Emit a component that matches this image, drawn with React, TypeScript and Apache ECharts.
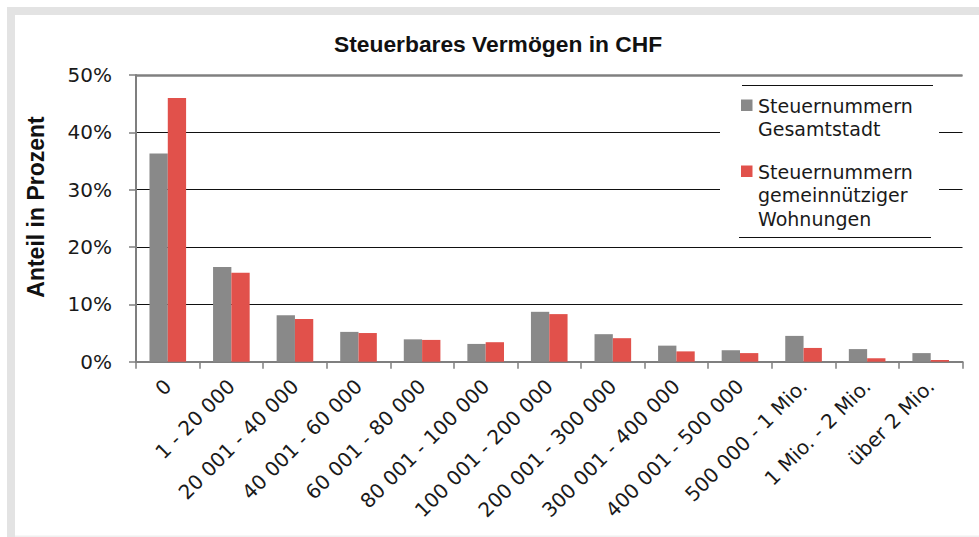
import React, { useEffect, useRef } from "react";
import * as echarts from "echarts";

const titleText = "Steuerbares Vermögen in CHF";
const yAxisName = "Anteil in Prozent";
const categories = [
  "0",
  "1 - 20 000",
  "20 001 - 40 000",
  "40 001 - 60 000",
  "60 001 - 80 000",
  "80 001 - 100 000",
  "100 001 - 200 000",
  "200 001 - 300 000",
  "300 001 - 400 000",
  "400 001 - 500 000",
  "500 000 - 1 Mio.",
  "1 Mio. - 2 Mio.",
  "über 2 Mio.",
];
const seriesNames = ["Steuernummern Gesamtstadt", "Steuernummern gemeinnütziger Wohnungen"];
const legendLabels = ["Steuernummern\nGesamtstadt", "Steuernummern\ngemeinnütziger\nWohnungen"];
const gesamtstadt = [36.3, 16.5, 8.1, 5.2, 3.9, 3.1, 8.7, 4.8, 2.8, 2.0, 4.5, 2.2, 1.5];
const gemeinnuetzig = [46.0, 15.5, 7.45, 5.0, 3.8, 3.4, 8.3, 4.1, 1.8, 1.5, 2.4, 0.6, 0.3];
const yTicks = [0, 10, 20, 30, 40, 50];

const COLORS = ["#898989", "#E1514B"];
const FONT = "'DejaVu Sans', Verdana, sans-serif";
const BOLD_FONT = "'Liberation Sans', Arial, Helvetica, sans-serif";
const TXT = "#1a1a1a";

export default function App() {
  const ref = useRef<HTMLDivElement>(null);
  useEffect(() => {
    if (!ref.current) return;
    const chart = echarts.init(ref.current, null, { renderer: "svg" });
    const legendGraphics: any[] = [
      { type: "rect", shape: { x: 720, y: 78, width: 219, height: 166 }, style: { fill: "#ffffff" }, z: 10 },
      { type: "line", shape: { x1: 742, y1: 85.5, x2: 933, y2: 85.5 }, style: { stroke: "#111", lineWidth: 1 }, z: 11 },
      { type: "line", shape: { x1: 739, y1: 237.5, x2: 931, y2: 237.5 }, style: { stroke: "#111", lineWidth: 1 }, z: 11 },
    ];
    const itemTops = [94, 160];
    legendLabels.forEach((lab, i) => {
      legendGraphics.push({
        type: "rect",
        shape: { x: 741, y: itemTops[i] + 5.5, width: 11.5, height: 11.5 },
        style: { fill: COLORS[i] },
        z: 11,
      });
      legendGraphics.push({
        type: "text",
        x: 758,
        y: itemTops[i],
        style: {
          text: lab,
          fill: TXT,
          font: `19px ${FONT}`,
          lineHeight: 23.5,
          textVerticalAlign: "top",
        },
        z: 11,
      });
    });

    chart.setOption({
      animation: false,
      backgroundColor: "#ffffff",
      textStyle: { fontFamily: FONT },
      title: {
        text: titleText,
        left: 329,
        top: 27,
        textStyle: { fontSize: 22.8, fontWeight: "bold", color: "#111", fontFamily: BOLD_FONT },
      },
      grid: { left: 136, right: 16.5, top: 75, bottom: 175.3, containLabel: false },
      xAxis: {
        type: "category",
        data: categories,
        axisLine: { show: true, lineStyle: { color: "#7f7f7f", width: 2 } },
        axisTick: { show: true, length: 7, lineStyle: { color: "#7f7f7f", width: 1.5 }, alignWithLabel: false },
        axisLabel: { interval: 0, rotate: 45, fontSize: 20, color: TXT, margin: 21, fontFamily: FONT },
      },
      yAxis: {
        type: "value",
        min: yTicks[0],
        max: yTicks[yTicks.length - 1],
        interval: 10,
        axisLine: { show: true, lineStyle: { color: "#7f7f7f", width: 2 } },
        axisTick: { show: true, length: 7, lineStyle: { color: "#7f7f7f", width: 1.5 } },
        axisLabel: { formatter: "{value}%", fontSize: 20, color: TXT, margin: 24, fontFamily: FONT },
        splitLine: {
          show: true,
          lineStyle: { color: ["#111", "#111", "#111", "#111", "#111", "#808080"], width: 1 },
        },
      },
      series: [
        {
          name: seriesNames[0],
          type: "bar",
          data: gesamtstadt,
          barWidth: "28.8%",
          barGap: "0%",
          itemStyle: { color: COLORS[0] },
          markLine: {
            silent: true,
            symbol: "none",
            label: { show: false },
            lineStyle: { color: "#808080", width: 2.5, type: "solid" },
            data: [{ yAxis: yTicks[yTicks.length - 1] }],
          },
        },
        {
          name: seriesNames[1],
          type: "bar",
          data: gemeinnuetzig,
          barWidth: "28.8%",
          barGap: "0%",
          itemStyle: { color: COLORS[1] },
        },
      ],
      graphic: [
        { type: "rect", shape: { x: 7, y: 7, width: 972, height: 8 }, style: { fill: "#e3e3e3" }, z: 20 },
        { type: "rect", shape: { x: 7, y: 7, width: 8, height: 530 }, style: { fill: "#e3e3e3" }, z: 20 },
        { type: "rect", shape: { x: 15, y: 535.5, width: 964, height: 1.5 }, style: { fill: "#f0f0f0" }, z: 20 },
        {
          type: "text",
          x: 36,
          y: 207,
          rotation: Math.PI / 2,
          style: {
            text: yAxisName,
            fill: "#111",
            font: `bold 23px ${BOLD_FONT}`,
            textAlign: "center",
            textVerticalAlign: "middle",
          },
          z: 20,
        },
        ...legendGraphics,
      ],
    });
    return () => chart.dispose();
  }, []);
  return (
    <div
      ref={ref}
      style={{ position: "absolute", left: 0, top: 0, width: 979, height: 537, background: "#fff" }}
    />
  );
}
